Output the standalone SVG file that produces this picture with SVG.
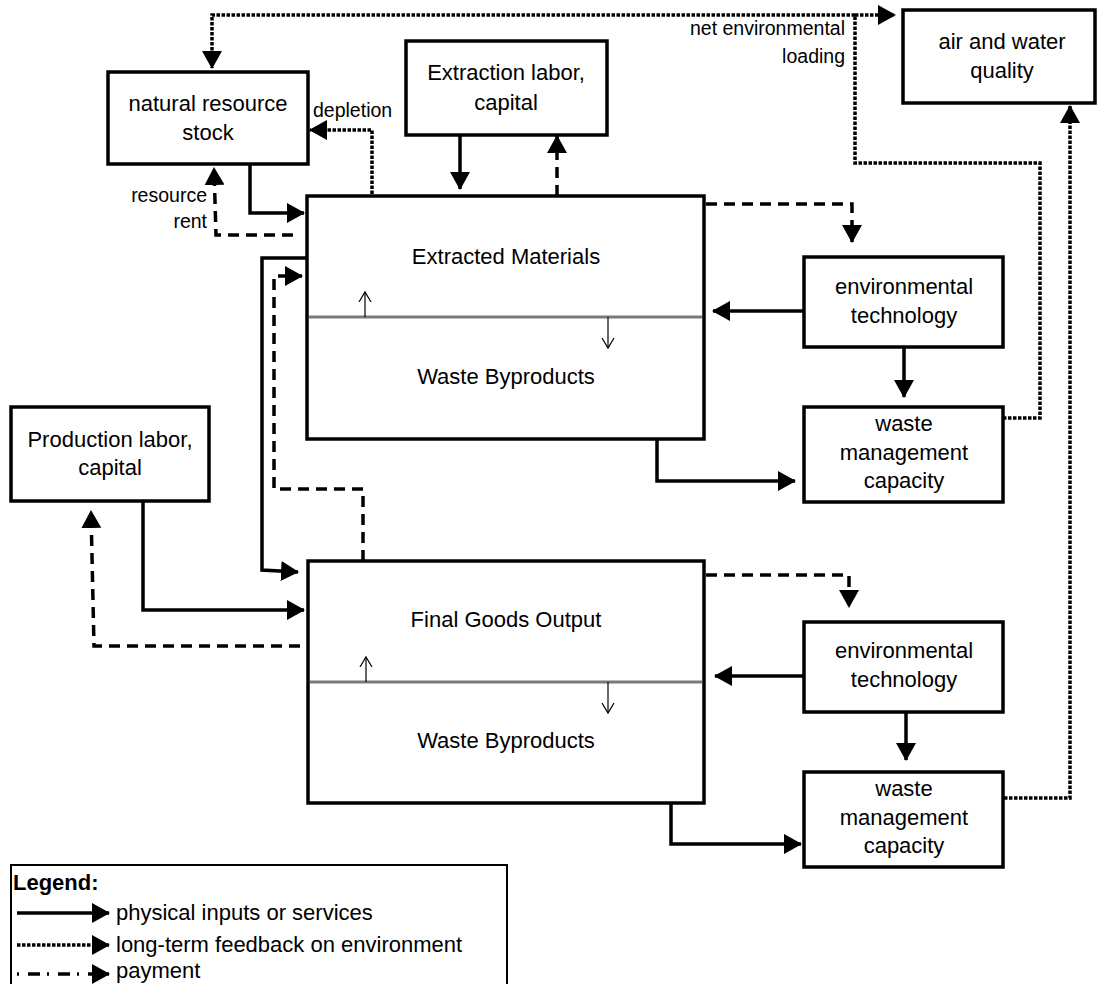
<svg xmlns="http://www.w3.org/2000/svg" width="1098" height="984" viewBox="0 0 1098 984">
<defs>
<marker id="ah" markerUnits="userSpaceOnUse" markerWidth="20" markerHeight="20" refX="17" refY="10" orient="auto">
<path d="M0,0 L18,10 L0,20 z" fill="#000"/>
</marker>
<marker id="open" markerUnits="userSpaceOnUse" markerWidth="14" markerHeight="14" refX="10" refY="7" orient="auto">
<path d="M0,1 L10,7 L0,13" fill="none" stroke="#000" stroke-width="1.2"/>
</marker>
</defs>
<style>
.box{fill:#fff;stroke:#000;stroke-width:3.5}
.t{font-family:"Liberation Sans",Arial,sans-serif;font-size:22px;fill:#000;text-anchor:middle}
.lbl{font-family:"Liberation Sans",Arial,sans-serif;font-size:19.5px;fill:#000}
.leg{font-family:"Liberation Sans",Arial,sans-serif;font-size:22px;fill:#000}
.end{text-anchor:end}
.solid{fill:none;stroke:#000;stroke-width:3.5;marker-end:url(#ah)}
.dot{fill:none;stroke:#000;stroke-width:3.5;stroke-dasharray:3.5 1.5}
.dotA{fill:none;stroke:#000;stroke-width:3.5;stroke-dasharray:3.5 1.5;marker-end:url(#ah)}
.dash{fill:none;stroke:#000;stroke-width:3.5;stroke-dasharray:11 7;marker-end:url(#ah)}
.divider{stroke:#7a7a7a;stroke-width:3}
.thin{fill:none;stroke:#000;stroke-width:1.2;marker-end:url(#open)}
</style>
<rect width="1098" height="984" fill="#fff"/>

<g id="connectors">
<path class="dotA" d="M855,15 H212 V68"/>
<path class="dotA" d="M855,15 H895"/>
<path class="dot" d="M1003,418 H1040 V163 H855 V15"/>
<path class="dotA" d="M1004,798 H1070 V106"/>
<path class="dotA" d="M372,194 V130 H310"/>
<path class="solid" d="M250,164 V213 H304"/>
<path class="dash" d="M293,235 H216 L214,168"/>
<path class="solid" d="M460,135 V189"/>
<path class="dash" d="M557,196 V136"/>
<path class="dash" d="M706,204 H852 V242"/>
<path class="solid" d="M804,311 H713"/>
<path class="solid" d="M904,347 V397"/>
<path class="solid" d="M657,439 V481 H795"/>
<path class="solid" d="M307,258 H262 V570 L298,572"/>
<path class="dash" d="M363,561 V489 H274 V276 H302"/>
<path class="solid" d="M143,501 V610 H304"/>
<path class="dash" d="M300,646 H94 L91,511"/>
<path class="dash" d="M706,575 H849 V607"/>
<path class="solid" d="M804,676 H715"/>
<path class="solid" d="M906,712 V760"/>
<path class="solid" d="M671,803 V844 H801"/>
</g>

<g id="natural-resource-stock">
<rect class="box" x="108" y="72" width="200" height="92"/>
<text class="t" x="208" y="111">natural resource</text>
<text class="t" x="208" y="140">stock</text>
</g>
<g id="labels">
<text class="lbl" x="313" y="117">depletion</text>
<text class="lbl end" x="207" y="202">resource</text>
<text class="lbl end" x="207" y="228">rent</text>
<text class="lbl end" x="845" y="35">net environmental</text>
<text class="lbl end" x="845" y="63">loading</text>
</g>

<g id="extraction-labor">
<rect class="box" x="406" y="41" width="201" height="94"/>
<text class="t" x="506" y="80">Extraction labor,</text>
<text class="t" x="506" y="110">capital</text>
</g>

<g id="air-water-quality">
<rect class="box" x="903" y="10" width="192" height="93"/>
<text class="t" x="1002" y="49">air and water</text>
<text class="t" x="1002" y="78">quality</text>
</g>

<g id="extracted-materials">
<rect class="box" x="307" y="196" width="397" height="243"/>
<line class="divider" x1="309" y1="317" x2="702" y2="317"/>
<path class="thin" d="M365,317 V292"/>
<path class="thin" d="M608,317 V348"/>
<text class="t" x="506" y="264">Extracted Materials</text>
<text class="t" x="506" y="384">Waste Byproducts</text>
</g>

<g id="env-tech-1">
<rect class="box" x="804" y="257" width="199" height="90"/>
<text class="t" x="904" y="294">environmental</text>
<text class="t" x="904" y="323">technology</text>
</g>

<g id="waste-mgmt-1">
<rect class="box" x="804" y="407" width="199" height="95"/>
<text class="t" x="904" y="431">waste</text>
<text class="t" x="904" y="460">management</text>
<text class="t" x="904" y="488">capacity</text>
</g>

<g id="production-labor">
<rect class="box" x="11" y="407" width="198" height="94"/>
<text class="t" x="110" y="447">Production labor,</text>
<text class="t" x="110" y="475">capital</text>
</g>

<g id="final-goods">
<rect class="box" x="308" y="561" width="396" height="242"/>
<line class="divider" x1="310" y1="682" x2="702" y2="682"/>
<path class="thin" d="M366,682 V657"/>
<path class="thin" d="M608,682 V713"/>
<text class="t" x="506" y="627">Final Goods Output</text>
<text class="t" x="506" y="748">Waste Byproducts</text>
</g>

<g id="env-tech-2">
<rect class="box" x="804" y="622" width="199" height="90"/>
<text class="t" x="904" y="658">environmental</text>
<text class="t" x="904" y="687">technology</text>
</g>

<g id="waste-mgmt-2">
<rect class="box" x="804" y="772" width="199" height="95"/>
<text class="t" x="904" y="796">waste</text>
<text class="t" x="904" y="825">management</text>
<text class="t" x="904" y="853">capacity</text>
</g>

<g id="legend">
<rect x="11" y="865" width="496" height="130" fill="#fff" stroke="#000" stroke-width="2"/>
<text class="leg" x="13" y="890" font-weight="bold">Legend:</text>
<path class="solid" d="M17,913 H109"/>
<path class="dotA" d="M17,945 H109"/>
<path class="dash" d="M17,974 H109" style="stroke-dasharray:2 9 12 7"/>
<text class="leg" x="116" y="920">physical inputs or services</text>
<text class="leg" x="116" y="952">long-term feedback on environment</text>
<text class="leg" x="116" y="978">payment</text>
</g>
</svg>
